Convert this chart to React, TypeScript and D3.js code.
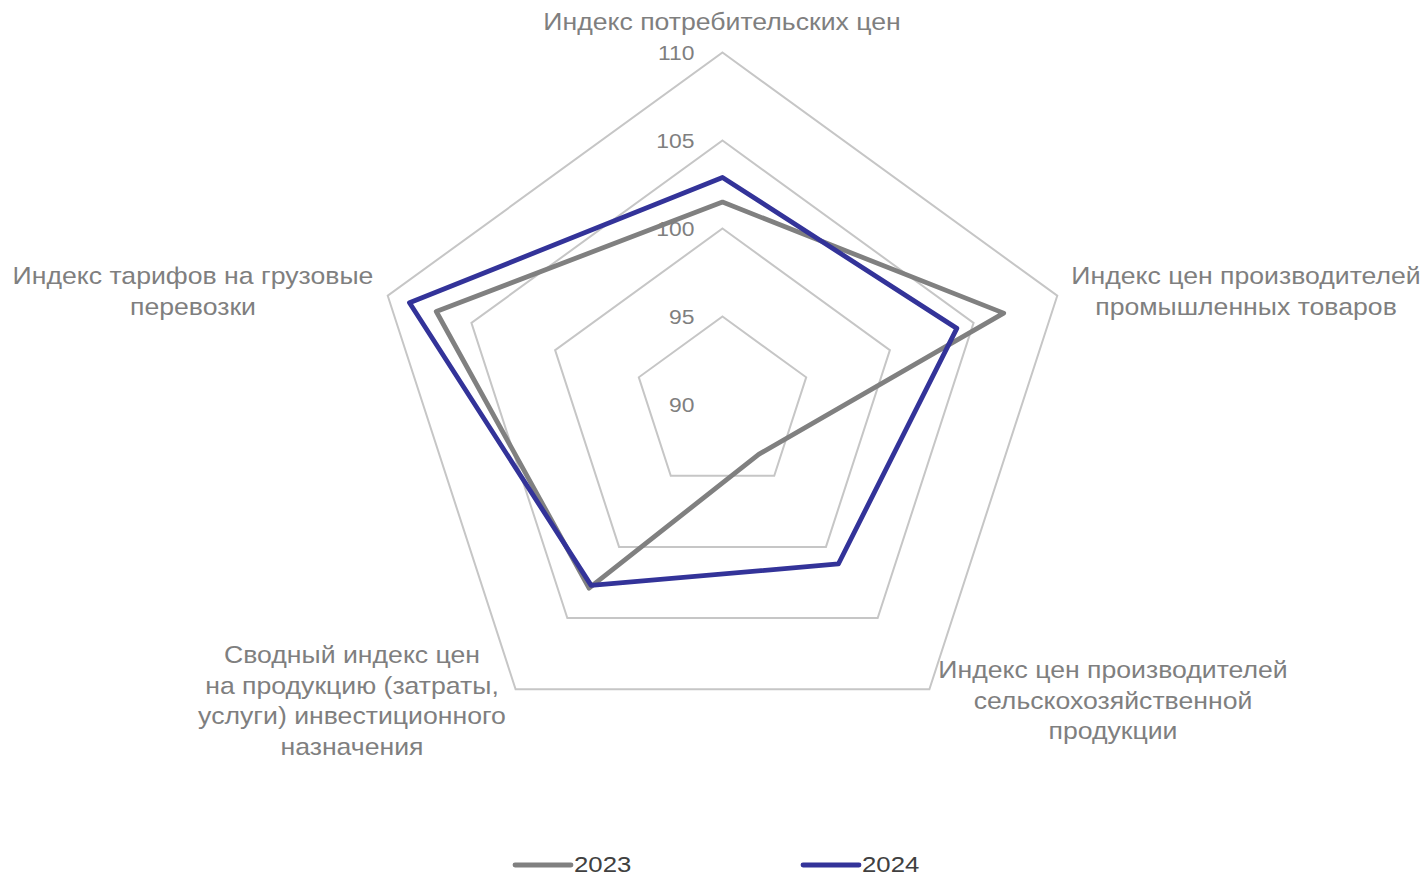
import React, { useRef, useEffect } from "react";
import * as d3 from "d3";

const categories = [
  ["Индекс потребительских цен"],
  ["Индекс цен производителей", "промышленных товаров"],
  ["Индекс цен производителей", "сельскохозяйственной", "продукции"],
  ["Сводный индекс цен", "на продукцию (затраты,", "услуги) инвестиционного", "назначения"],
  ["Индекс тарифов на грузовые", "перевозки"],
];
const values2023 = [101.5, 106.8, 93.5, 102.9, 107.1];
const values2024 = [102.9, 104.0, 101.2, 102.7, 108.7];
const ticks = [90, 95, 100, 105, 110];
const seriesNames = ["2023", "2024"];

// where each category label block sits (centre of first line)
const labelLayout = [
  { x: 722, y: 22 },
  { x: 1246, y: 276 },
  { x: 1113, y: 670 },
  { x: 352, y: 655 },
  { x: 193, y: 276 },
];

function RadarChart() {
  const canvas = useRef(null);

  function drawChart() {
    const W = 1428;
    const H = 877;
    const cx = 722.5;
    const cy = 404.5;
    const colors = ["#808080", "#333399"];
    const font = "'Liberation Sans', Arial, sans-serif";
    const sx = 1.11; // the text in the original is a bit wider

    const svg = d3.select(canvas.current).attr("width", W).attr("height", H);
    svg.selectAll("*").remove();

    const r = d3.scaleLinear().domain([90, 110]).range([0, 352]);
    const angle = (i) => (i * 2 * Math.PI) / categories.length;
    const pt = (i, v) => [cx + r(v) * Math.sin(angle(i)), cy - r(v) * Math.cos(angle(i))];

    const g = svg.append("g");
    const line = d3.line().curve(d3.curveLinearClosed);

    // grid rings
    g.selectAll("path.ring")
      .data(ticks.slice(1))
      .enter()
      .append("path")
      .attr("class", "ring")
      .attr("d", (t) => line(categories.map((_, i) => pt(i, t))))
      .attr("fill", "none")
      .attr("stroke", "#c6c6c6")
      .attr("stroke-width", 2);

    // series
    [values2023, values2024].forEach((vals, s) => {
      g.append("path")
        .attr("d", line(vals.map((v, i) => pt(i, v))))
        .attr("fill", "none")
        .attr("stroke", colors[s])
        .attr("stroke-width", 4.8)
        .attr("stroke-linejoin", "round");
    });

    // tick labels
    g.selectAll("text.tick")
      .data(ticks)
      .enter()
      .append("text")
      .attr("class", "tick")
      .attr("transform", (t) => `translate(${cx - 28},${cy - r(t)}) scale(1.09,1)`)
      .attr("dy", "0.35em")
      .attr("text-anchor", "end")
      .attr("fill", "#7f7f7f")
      .style("font-family", font)
      .style("font-size", "21px")
      .text((t) => t);

    // category labels
    categories.forEach((lines, i) => {
      const t = g
        .append("text")
        .attr("transform", `translate(${labelLayout[i].x},${labelLayout[i].y}) scale(${sx},1)`)
        .attr("text-anchor", "middle")
        .attr("fill", "#7f7f7f")
        .style("font-family", font)
        .style("font-size", "24px");
      lines.forEach((l, k) => {
        t.append("tspan")
          .attr("x", 0)
          .attr("y", k * 30.5)
          .attr("dy", "0.35em")
          .text(l);
      });
    });

    // legend
    const legendX = [515, 803];
    seriesNames.forEach((name, s) => {
      svg
        .append("line")
        .attr("x1", legendX[s])
        .attr("x2", legendX[s] + 56)
        .attr("y1", 865)
        .attr("y2", 865)
        .attr("stroke", colors[s])
        .attr("stroke-width", 4.8)
        .attr("stroke-linecap", "round");
      svg
        .append("text")
        .attr("transform", `translate(${legendX[s] + 59},871.5) scale(1.12,1)`)
        .attr("fill", "#404040")
        .style("font-family", font)
        .style("font-size", "23px")
        .text(name);
    });
  }

  useEffect(() => {
    drawChart();
  }, []);

  return <svg ref={canvas} style={{ position: "absolute", left: 0, top: 0 }}></svg>;
}

export default function App() {
  return <RadarChart />;
}
